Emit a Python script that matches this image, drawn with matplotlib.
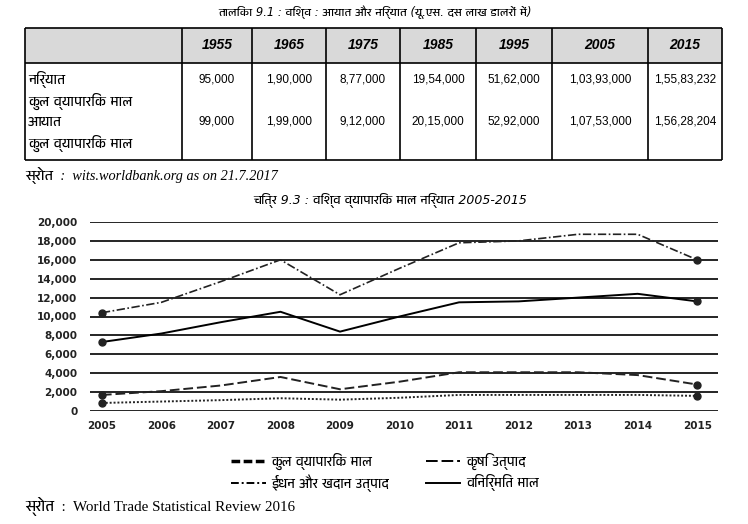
import matplotlib
matplotlib.use("Agg")
import matplotlib.pyplot as plt
from matplotlib import font_manager
from matplotlib.ft2font import FT2Font
from matplotlib.lines import Line2D

# ---- data ----
years = [2005, 2006, 2007, 2008, 2009, 2010, 2011, 2012, 2013, 2014, 2015]
total = [10400, 11500, 13700, 16000, 12300, 15100, 17800, 18000, 18700, 18700, 16000]
manuf = [7300, 8200, 9400, 10500, 8400, 10000, 11500, 11600, 12000, 12400, 11600]
fuels = [1700, 2100, 2700, 3600, 2300, 3100, 4100, 4100, 4100, 3800, 2800]
agri = [850, 1000, 1150, 1350, 1200, 1400, 1700, 1700, 1700, 1700, 1600]

table_years = ["1955", "1965", "1975", "1985", "1995", "2005", "2015"]
exports = ["95,000", "1,90,000", "8,77,000", "19,54,000", "51,62,000", "1,03,93,000", "1,55,83,232"]
imports = ["99,000", "1,99,000", "9,12,000", "20,15,000", "52,92,000", "1,07,53,000", "1,56,28,204"]

yticks = [0, 2000, 4000, 6000, 8000, 10000, 12000, 14000, 16000, 18000, 20000]


# pick an installed font that has Devanagari glyphs, prefer a proportional one
def find_deva():
    found = []
    for f in font_manager.fontManager.ttflist:
        try:
            if 0x0915 in FT2Font(f.fname).get_charmap():
                found.append(f.name)
        except Exception:
            pass
    found.sort(key=lambda n: ("Devanagari" not in n, "Mono" in n))
    return found[0] if found else None


deva = find_deva()
extra = [deva] if deva else []
sans = ["DejaVu Sans"] + extra
serif = ["Liberation Serif", "DejaVu Serif"] + extra

fig = plt.figure(figsize=(7.48, 5.24), dpi=100)

# ---- table drawn in pixel coords ----
tb = fig.add_axes([0, 0, 1, 1])
tb.set_xlim(0, 748)
tb.set_ylim(524, 0)
tb.axis("off")

cols = [25, 182, 252, 326, 400, 476, 552, 648, 722]
top, head_bot, bot = 28, 63, 160
tb.fill_between([cols[0], cols[-1]], top, head_bot, color="#d9d9d9", lw=0)
tb.hlines([top, head_bot, bot], cols[0], cols[-1], color="black", lw=1.2)
tb.vlines(cols, top, bot, color="black", lw=1.2)

tb.text(375, 12, "तालिका 9.1 : विश्व : आयात और निर्यात (यू.एस. दस लाख डालरों में)",
        ha="center", va="center", fontsize=8.3, style="italic", family=sans)
for i, yr in enumerate(table_years):
    cx = (cols[i + 1] + cols[i + 2]) / 2
    tb.text(cx, 45, yr, ha="center", va="center", fontsize=10,
            style="italic", weight="bold", family=["Liberation Sans"])
    tb.text(cx, 80, exports[i], ha="center", va="center", fontsize=8.5, family=["Liberation Sans"])
    tb.text(cx, 122, imports[i], ha="center", va="center", fontsize=8.5, family=["Liberation Sans"])

for y, s in [(80, "निर्यात"), (101, "कुल व्यापारिक माल"), (122, "आयात"), (143, "कुल व्यापारिक माल")]:
    tb.text(28, y, s, ha="left", va="center", fontsize=9.8, family=sans)

tb.text(25, 176, "स्रोत  :  wits.worldbank.org as on 21.7.2017", ha="left", va="center",
        fontsize=10.3, style="italic", family=serif)
tb.text(390, 200, "चित्र 9.3 : विश्व व्यापारिक माल निर्यात 2005-2015", ha="center", va="center",
        fontsize=9, style="italic", family=sans)
tb.text(25, 507, "स्रोत  :  World Trade Statistical Review 2016", ha="left", va="center",
        fontsize=10.8, family=serif)

# ---- line chart ----
ax = fig.add_axes([90 / 748, 1 - 411 / 524, 628 / 748, 189 / 524])
ax.plot(years, total, color="#222222", lw=1.2, dashes=(5, 1.5, 1, 1.5))
ax.plot(years, manuf, color="black", lw=1.4)
ax.plot(years, fuels, color="#222222", lw=1.4, dashes=(5, 2))
ax.plot(years, agri, color="#222222", lw=1.4, dashes=(1, 1))
for s in [total, manuf, fuels, agri]:
    ax.plot([years[0], years[-1]], [s[0], s[-1]], "o", color="#222222", ms=5, ls="none")

ax.set_xlim(2004.8, 2015.35)
ax.set_ylim(0, 20000)
ax.set_yticks(yticks)
ax.set_yticklabels([f"{v:,}" for v in yticks])
ax.set_xticks(years)
ax.grid(axis="y", color="black", lw=1.2)
ax.set_axisbelow(True)
for sp in ax.spines.values():
    sp.set_visible(False)
ax.tick_params(length=0, labelsize=7.5)
ax.tick_params(axis="y", pad=9)
ax.tick_params(axis="x", pad=7)
for lab in ax.get_xticklabels() + ax.get_yticklabels():
    lab.set_fontweight("bold")
    lab.set_color("#222222")

handles = [
    Line2D([], [], color="black", lw=2.5, dashes=(2.5, 1)),
    Line2D([], [], color="black", lw=1.4, dashes=(4, 1.5, 1, 1.5)),
    Line2D([], [], color="black", lw=1.4, dashes=(6, 2)),
    Line2D([], [], color="black", lw=1.4),
]
labels = ["कुल व्यापारिक माल", "ईंधन और खदान उत्पाद", "कृषि उत्पाद", "विनिर्मित माल"]
fig.legend(handles, labels, ncol=2, loc="center", bbox_to_anchor=(0.515, 0.099),
           frameon=False, handlelength=2.6, handletextpad=0.45, columnspacing=2.8,
           labelspacing=0.35, prop={"family": sans, "size": 9.5})

fig.savefig("out.png", dpi=100)
